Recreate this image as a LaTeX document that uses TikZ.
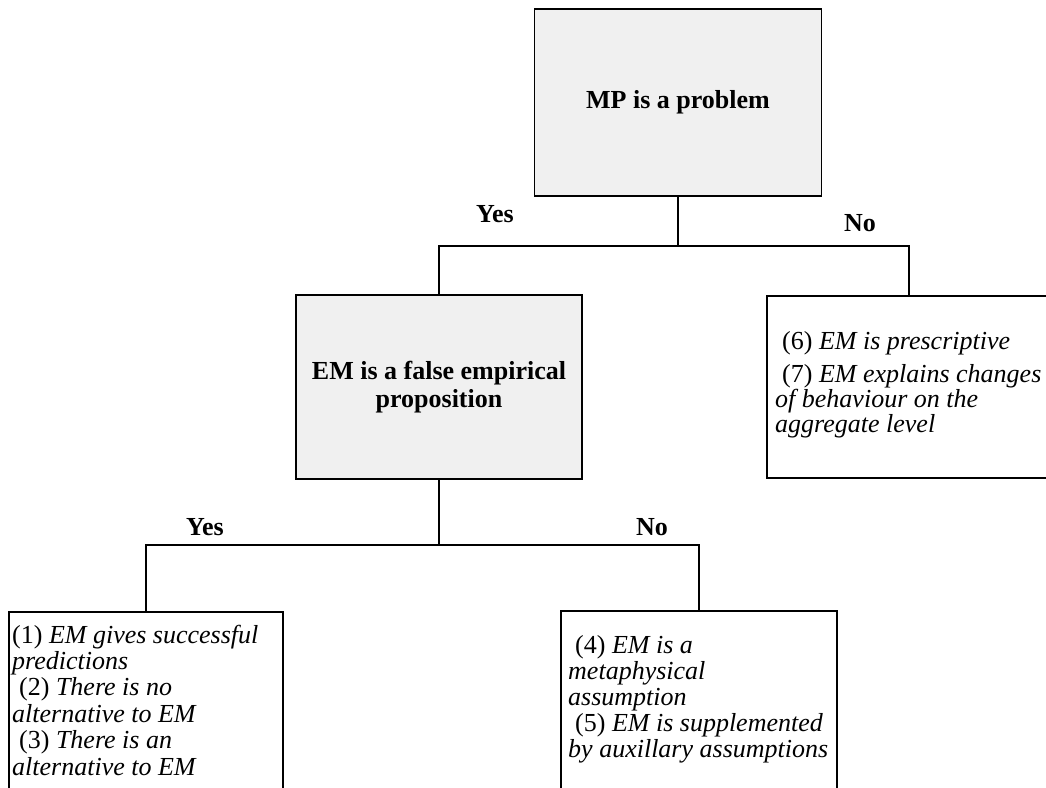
\documentclass[tikz,border=0pt]{standalone}
\usepackage{fontspec}
\setmainfont{Liberation Serif}
\newcommand{\lead}{\hspace*{7pt}}
\tikzset{
  conn/.style={draw=black, line width=1.6pt},
  graybox/.style={draw=black, line width=1.9pt, fill=black!6, inner sep=0pt, align=center,
                  font=\fontsize{26}{28}\selectfont\bfseries},
  whitebox/.style={draw=black, line width=1.5pt, fill=white, inner sep=0pt},
  txt/.style={inner sep=0pt, align=left, anchor=north west},
  lbl/.style={inner sep=0pt, font=\fontsize{26}{28}\selectfont\bfseries}
}
\begin{document}
\begin{tikzpicture}[x=1pt,y=-1pt]
\useasboundingbox (0,0) rectangle (1046,787);
\clip (0,0) rectangle (1046,787);
% boxes
\node[graybox, minimum width=287pt, minimum height=187pt] (mp) at (678,102.5) {MP is a problem};
\node[graybox, minimum width=286pt, minimum height=184pt] (mid) at (439,387) {EM is a false empirical\\[0pt]proposition};
\node[whitebox, minimum width=284pt, minimum height=182pt] (rbox) at (909,387) {};
\node[whitebox, minimum width=274pt, minimum height=188pt] (lbox) at (146,706) {};
\node[whitebox, minimum width=276pt, minimum height=189pt] (bbox) at (699,705.5) {};
% connectors
\coordinate (j1) at (678,246);
\coordinate (j2) at (439,545);
\draw[conn] (mp.south) -- (j1);
\draw[conn] (mid.north) |- (j1);
\draw[conn] (j1) -| (rbox.north);
\draw[conn] (mid.south) -- (j2);
\draw[conn] (lbox.north) |- (j2);
\draw[conn] (j2) -| (bbox.north);
% labels
\node[lbl] (yes1) at (495,214) {Yes};
\node[lbl] (no1) at (860,223) {No};
\node[lbl] (yes2) at (205,527) {Yes};
\node[lbl] (no2) at (652,527) {No};
% texts
\node[txt, font=\fontsize{26}{25}\selectfont] (t67) at (775,331.5)
  {\strut\lead(6) \textit{EM is prescriptive}\\[6pt]\lead(7) \textit{EM explains changes}\\\textit{of behaviour on the}\\\textit{aggregate level}};
\node[txt, font=\fontsize{26}{26.4}\selectfont] (t123) at (12,624.5)
  {\strut(1) \textit{EM gives successful}\\\textit{predictions}\\\lead(2) \textit{There is no}\\\textit{alternative to EM}\\\lead(3) \textit{There is an}\\\textit{alternative to EM}};
\node[txt, font=\fontsize{26}{26}\selectfont] (t45) at (568,634.8)
  {\strut\lead(4) \textit{EM is a}\\\textit{metaphysical}\\\textit{assumption}\\\lead(5) \textit{EM is supplemented}\\\textit{by auxillary assumptions}};
\end{tikzpicture}
\end{document}
